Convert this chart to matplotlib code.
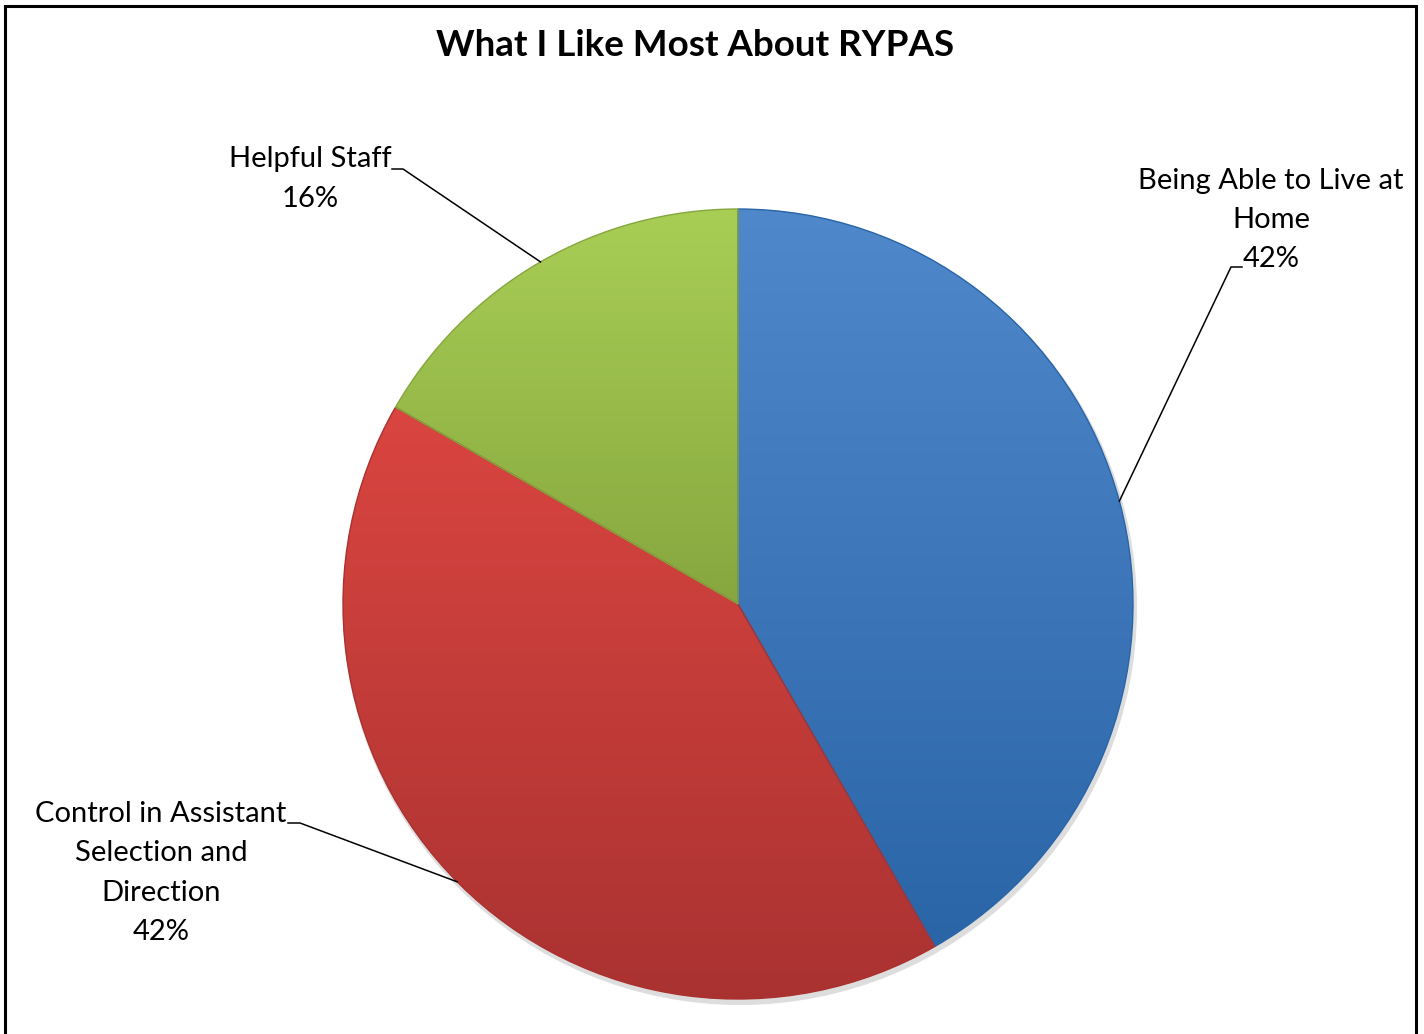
import numpy as np
import matplotlib.pyplot as plt
from matplotlib.patches import Wedge
from matplotlib.colors import LinearSegmentedColormap

# data
labels = ['Being Able to Live at\nHome', 'Control in Assistant\nSelection and\nDirection', 'Helpful Staff']
shares = [41.7, 41.6, 16.7]          # slice sizes as drawn
pct_labels = ['42%', '42%', '16%']   # percentages as printed on the chart
top_colors = ['#5089CB', '#DA4540', '#A9CE55']
bottom_colors = ['#2A65A7', '#A93231', '#86A73F']

W, H = 1424, 1034
plt.rcParams['font.family'] = ['Lato', 'DejaVu Sans']

fig = plt.figure(figsize=(W / 100, H / 100), dpi=100)
ax = fig.add_axes([0, 0, 1, 1])

cx, cy, r = 738, H - 604, 395

# soft shadow under the pie
shadow = plt.Circle((cx + 2, cy - 4), r + 2, color='#bdbdbd', alpha=0.5, zorder=0.5, lw=0)
ax.add_patch(shadow)

wedges, _ = ax.pie(shares, startangle=90, counterclock=False, center=(cx, cy), radius=r,
                   colors=top_colors, wedgeprops=dict(linewidth=0))

# vertical gradient inside each slice
grad = np.linspace(0, 1, 256).reshape(-1, 1)
for w, c0, c1 in zip(wedges, top_colors, bottom_colors):
    pts = w.get_patch_transform().transform(w.get_path().vertices)
    ymin, ymax = pts[:, 1].min(), pts[:, 1].max()
    cmap = LinearSegmentedColormap.from_list('g', [c0, c1])
    im = ax.imshow(grad, cmap=cmap, extent=(cx - r, cx + r, ymin, ymax), origin='upper',
                   aspect='auto', zorder=2)
    im.set_clip_path(w)
    w.set_zorder(1)

# slice borders (slightly darker edge)
for w, c1 in zip(wedges, bottom_colors):
    ax.add_patch(Wedge(w.center, w.r, w.theta1, w.theta2, fill=False,
                       edgecolor=c1, lw=1.0, zorder=3))

# data labels with leader lines
label_pos = [(1271, 220), (161, 873), (310, 179)]
line_start = [[(1242, 267), (1231, 267)], [(288, 823), (300, 823)], [(392, 169), (403, 169)]]
anchor_deg = [15.1, 224.7, 120.0]
for lab, p, xy, seg, a in zip(labels, pct_labels, label_pos, line_start, anchor_deg):
    ax.text(xy[0], H - xy[1], lab + '\n' + p, ha='center', va='center', fontsize=21,
            linespacing=1.62, color='black', zorder=5)
    ex = cx + r * np.cos(np.radians(a))
    ey = cy + r * np.sin(np.radians(a))
    xs = [seg[0][0], seg[1][0], ex]
    ys = [H - seg[0][1], H - seg[1][1], ey]
    ax.plot(xs, ys, color='black', lw=1.1, zorder=4)

ax.text(695, H - 45, 'What I Like Most About RYPAS', ha='center', va='center',
        fontsize=26.5, fontweight='bold', color='black')

# chart border (left, top, right)
ax.plot([5, 5, 1416, 1416], [0, H - 6, H - 6, 0], color='black', lw=2.2, clip_on=False,
        solid_joinstyle='miter')

ax.set_xlim(0, W)
ax.set_ylim(0, H)
ax.set_aspect('equal')
ax.axis('off')

fig.savefig('out.png', dpi=100, facecolor='white')
